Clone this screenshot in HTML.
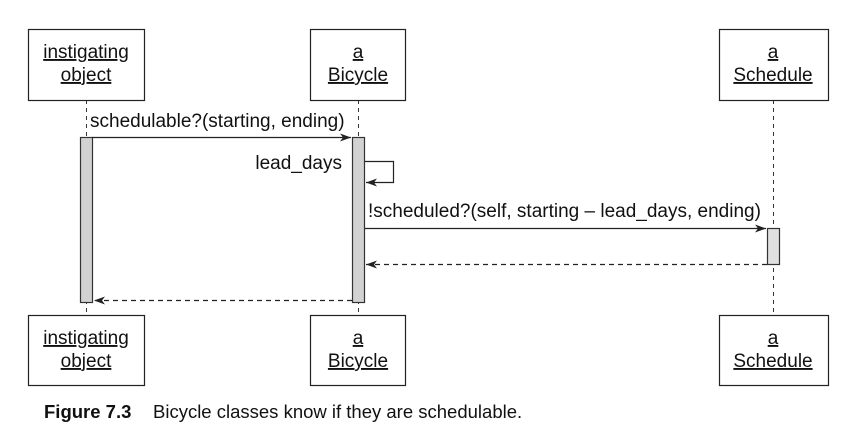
<!DOCTYPE html>
<html><head><style>body{margin:0;background:#fff}svg{display:block}text{font-family:"Liberation Sans",Arial,sans-serif;fill:#111}</style></head><body>
<svg width="861" height="443" viewBox="0 0 861 443" xmlns="http://www.w3.org/2000/svg">
<defs><marker id="a" markerWidth="12" markerHeight="8" refX="11" refY="4" orient="auto" markerUnits="userSpaceOnUse"><path d="M0,0 L11,4 L0,8 L3,4 Z" fill="#222"/></marker></defs>
<g stroke="#333" stroke-width="1" stroke-dasharray="4,4" fill="none">
<line x1="86.5" y1="100" x2="86.5" y2="315"/>
<line x1="358.5" y1="100" x2="358.5" y2="315"/>
<line x1="773.5" y1="100" x2="773.5" y2="315"/>
</g>
<g fill="#fff" stroke="#222" stroke-width="1.2">
<rect x="28.5" y="29.5" width="116" height="71"/>
<rect x="310.5" y="29.5" width="95" height="71"/>
<rect x="719.5" y="29.5" width="109" height="71"/>
<rect x="28.5" y="315.5" width="116" height="70"/>
<rect x="310.5" y="315.5" width="95" height="70"/>
<rect x="719.5" y="315.5" width="109" height="70"/>
</g>
<g stroke="#333" stroke-width="1.2">
<rect x="80.5" y="137.5" width="12" height="165" fill="#d2d2d2"/>
<rect x="352.5" y="137.5" width="12" height="165" fill="#d2d2d2"/>
<rect x="767.5" y="228.5" width="12" height="36" fill="#e0e0e0"/>
</g>
<g stroke="#222" stroke-width="1.2" fill="none">
<line x1="92" y1="137.5" x2="351" y2="137.5" marker-end="url(#a)"/>
<polyline points="365,161.5 393.5,161.5 393.5,182.5 366,182.5" marker-end="url(#a)"/>
<line x1="365" y1="228.5" x2="766" y2="228.5" marker-end="url(#a)"/>
<line x1="767" y1="264.5" x2="366" y2="264.5" stroke-dasharray="5,4" marker-end="url(#a)"/>
<line x1="352" y1="300.5" x2="94" y2="300.5" stroke-dasharray="5,4" marker-end="url(#a)"/>
</g>
<g font-size="19" text-anchor="middle">
<text x="86" y="58" text-decoration="underline">instigating</text>
<text x="86" y="81" text-decoration="underline">object</text>
<text x="358" y="58" text-decoration="underline">a</text>
<text x="358" y="81" text-decoration="underline">Bicycle</text>
<text x="773" y="58" text-decoration="underline">a</text>
<text x="773" y="81" text-decoration="underline">Schedule</text>
<text x="86" y="344" text-decoration="underline">instigating</text>
<text x="86" y="367" text-decoration="underline">object</text>
<text x="358" y="344" text-decoration="underline">a</text>
<text x="358" y="367" text-decoration="underline">Bicycle</text>
<text x="773" y="344" text-decoration="underline">a</text>
<text x="773" y="367" text-decoration="underline">Schedule</text>
</g>
<text x="90" y="127" font-size="19">schedulable?(starting, ending)</text>
<text x="342" y="169" font-size="19" text-anchor="end">lead_days</text>
<text x="368" y="217" font-size="19">!scheduled?(self, starting – lead_days, ending)</text>
<text x="44" y="418" font-size="18.5" font-weight="bold">Figure 7.3</text>
<text x="153" y="418" font-size="18.5">Bicycle classes know if they are schedulable.</text>
</svg>
</body></html>
